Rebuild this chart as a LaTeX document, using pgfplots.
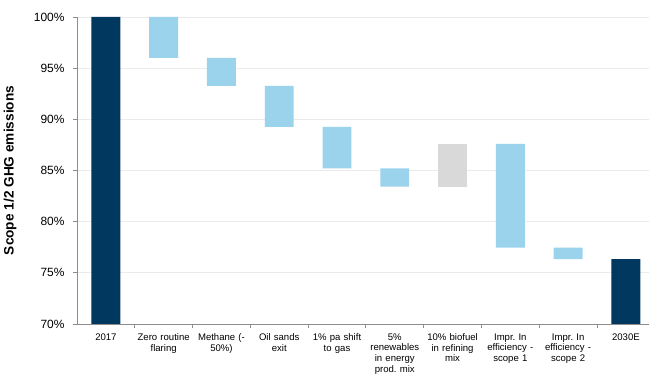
\documentclass[border=0pt]{standalone}
\usepackage{pgfplots}
\pgfplotsset{compat=1.18}
\usepackage{fontspec}
\setmainfont{Liberation Sans}

\definecolor{navy}{RGB}{0,56,96}
\definecolor{lightblue}{RGB}{155,210,236}
\definecolor{lightgrey}{RGB}{217,217,217}
\definecolor{gridgrey}{RGB}{235,235,235}
\definecolor{axisgrey}{RGB}{140,140,140}

\begin{document}
\begin{tikzpicture}
\begin{axis}[
  name=a,
  width=572bp, height=307bp, scale only axis,
  ybar stacked, bar width=0.5,
  xmin=-0.5, xmax=9.4,
  ymin=70, ymax=100,
  ytick={70,75,...,100},
  yticklabel={\pgfmathprintnumber{\tick}\%},
  /pgf/number format/assume math mode=true,
  ymajorgrids, grid style={gridgrey, line width=0.8pt},
  axis x line*=bottom, axis y line*=left,
  axis line style={axisgrey, line width=0.8pt},
  xtick={0,...,9},
  major x tick style={draw=none},
  minor xtick={0.5,1.5,...,8.5},
  minor x tick style={axisgrey, line width=0.8pt},
  minor tick length=4bp,
  y tick style={axisgrey, line width=0.8pt},
  major tick length=4bp,
  tick align=outside,
  xticklabels={2017, Zero routine\\flaring, Methane (-\\50\%), Oil sands\\exit, 1\% pa shift\\to gas, 5\%\\renewables\\in energy\\prod.\ mix, 10\% biofuel\\in refining\\mix, Impr.\ In\\efficiency -\\scope 1, Impr.\ In\\efficiency -\\scope 2, 2030E},
  xticklabel style={font=\fontsize{9.6}{10.8}\selectfont, align=center, text width=62bp, yshift=-2bp},
  yticklabel style={font=\fontsize{12}{14}\selectfont, xshift=-5bp},
  ylabel={\textbf{Scope 1/2 GHG emissions}},
  ylabel style={font=\fontsize{13.7}{15}\selectfont, at={(axis description cs:-0.0997,0.5)}, anchor=south},
]
% invisible base of each floating bar
\addplot[draw=none, fill=none] coordinates {(0,0) (1,96) (2,93.26) (3,89.26) (4,85.2) (5,83.43) (6,83.43) (7,77.47) (8,76.33) (9,0)};
% start and end totals
\addplot[draw=none, fill=navy] coordinates {(0,100) (1,0) (2,0) (3,0) (4,0) (5,0) (6,0) (7,0) (8,0) (9,76.33)};
% reductions
\addplot[draw=none, fill=lightblue] coordinates {(0,0) (1,4) (2,2.74) (3,4) (4,4.06) (5,1.77) (6,0) (7,10.13) (8,1.14) (9,0)};
% biofuel step
\addplot[draw=none, fill=lightgrey] coordinates {(0,0) (1,0) (2,0) (3,0) (4,0) (5,0) (6,4.17) (7,0) (8,0) (9,0)};
\end{axis}
\pgfresetboundingbox
\path[use as bounding box] ([xshift=-77bp,yshift=-50.7bp]a.south west) rectangle ([yshift=17bp]a.north east);
\end{tikzpicture}
\end{document}
